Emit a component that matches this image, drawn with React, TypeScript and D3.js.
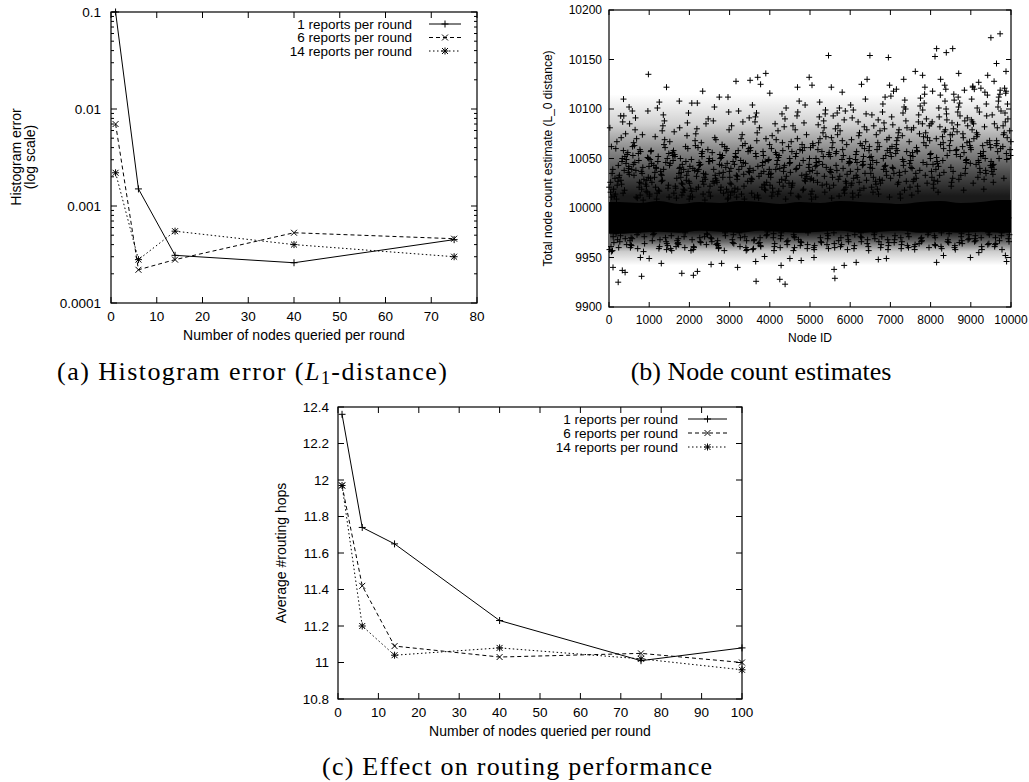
import React from 'react';
import * as d3 from 'd3';

// ---- panel (a) / (c) shared legend names ----
const seriesNames = ['1 reports per round', '6 reports per round', '14 reports per round'];

// ---- panel (a): histogram error, log scale ----
const histX = [1, 6, 14, 40, 75];
const histErr1 = [0.1, 0.0015, 0.00031, 0.00026, 0.00045];
const histErr6 = [0.007, 0.00022, 0.00028, 0.00053, 0.00046];
const histErr14 = [0.0022, 0.00028, 0.00055, 0.0004, 0.0003];
const histXTicks = [0, 10, 20, 30, 40, 50, 60, 70, 80];
const histYTicks = [0.0001, 0.001, 0.01, 0.1];
const histYLabels = ['0.0001', '0.001', '0.01', '0.1'];

// ---- panel (c): routing hops ----
const hopsX = [1, 6, 14, 40, 75, 100];
const hops1 = [12.36, 11.74, 11.65, 11.23, 11.01, 11.08];
const hops6 = [11.97, 11.42, 11.09, 11.03, 11.05, 11.0];
const hops14 = [11.97, 11.2, 11.04, 11.08, 11.02, 10.96];
const hopsXTicks = [0, 10, 20, 30, 40, 50, 60, 70, 80, 90, 100];
const hopsYTicks = [10.8, 11, 11.2, 11.4, 11.6, 11.8, 12, 12.2, 12.4];

// ---- panel (b): node count estimates ----
const nodeXTicks = [0, 1000, 2000, 3000, 4000, 5000, 6000, 7000, 8000, 9000, 10000];
const nodeYTicks = [9900, 9950, 10000, 10050, 10100, 10150, 10200];
const binSize = 500;
// dense black core of the cloud, per 500-node bin
const bandLo = [9974, 9975, 9976, 9975, 9977, 9976, 9975, 9977, 9976, 9975, 9976, 9977, 9975, 9976, 9977, 9975, 9976, 9975, 9976, 9975];
const bandHi = [10006, 10005, 10007, 10004, 10006, 10005, 10007, 10006, 10004, 10006, 10005, 10007, 10006, 10005, 10004, 10006, 10007, 10005, 10006, 10008];
// how crowded the points are at a given estimate (share of ink)
const densityAt = [10115, 10085, 10060, 10035, 10012, 9976, 9966, 9956, 9942];
const densityInk = [0, 0.18, 0.45, 0.7, 0.9, 0.9, 0.6, 0.2, 0];
// sampled estimates per bin (nodes spread through the bin)
const cloud = [
  [10021, 9968, 10045, 10012, 10087, 9961, 10033, 10056, 9974, 10018, 10039, 10071, 9958, 10027, 10049, 9990, 10015, 10062, 9966, 10036, 10009, 10052, 9971, 10024, 10081, 10043, 9963, 10030, 10058, 10011, 9997, 10040, 10067, 9969, 10019, 10047, 10026, 9960, 10054, 10014, 10093, 10035, 9972, 10042, 10023, 10075, 9965, 10050, 10016, 10031, 9985, 10060, 10038, 9957, 10028],
  [10034, 9959, 10017, 10063, 10041, 9970, 10026, 10098, 10011, 9964, 10053, 10037, 10085, 9975, 10022, 10046, 10008, 9962, 10059, 10031, 10070, 9988, 10044, 10019, 9967, 10055, 10028, 10079, 9956, 10039, 10013, 10050, 9973, 10024, 10066, 10035, 9960, 10048, 10016, 10091, 10029, 9969, 10057, 10042, 10010, 9996, 10033, 10074, 9963, 10021, 10051, 10038, 9971, 10062, 10025],
  [10012, 10047, 9966, 10031, 10083, 10058, 9961, 10020, 10040, 10069, 9973, 10027, 10014, 10052, 9958, 10036, 10094, 10045, 9968, 10023, 10009, 10061, 9976, 10033, 10049, 10018, 9964, 10072, 10039, 10026, 9986, 10055, 10015, 9970, 10043, 10078, 10030, 9959, 10050, 10021, 10064, 9967, 10037, 10011, 10101, 10046, 9974, 10028, 10057, 10017, 9962, 10041, 10088, 9993, 10034],
  [10043, 9965, 10028, 10054, 10016, 9972, 10081, 10037, 10010, 9960, 10048, 10025, 10067, 9969, 10033, 10052, 10019, 9957, 10041, 10096, 10030, 9975, 10058, 10013, 10045, 9963, 10073, 10022, 10039, 9991, 10050, 10027, 9967, 10062, 10015, 10044, 9959, 10035, 10086, 10020, 9971, 10056, 10031, 10009, 9964, 10047, 10077, 10024, 9982, 10040, 10060, 9961, 10018, 10053, 10036],
  [10025, 10061, 9963, 10038, 10014, 10049, 9970, 10090, 10032, 10008, 9958, 10055, 10042, 10021, 9974, 10068, 10035, 10017, 9966, 10047, 10080, 10029, 9961, 10052, 10012, 10039, 9987, 10063, 10024, 9968, 10044, 10016, 10106, 10034, 9960, 10057, 10020, 10046, 9973, 10075, 10031, 10011, 9965, 10050, 10037, 10085, 9999, 10027, 9957, 10043, 10059, 10019, 9971, 10040, 10066],
  [10047, 9962, 10019, 10071, 10036, 9969, 10054, 10010, 10028, 9975, 10088, 10043, 10022, 9959, 10060, 10033, 10015, 9966, 10050, 10097, 10026, 9972, 10039, 10064, 10012, 9960, 10045, 10030, 9984, 10056, 10018, 10079, 9964, 10041, 10025, 10053, 9970, 10035, 10009, 10069, 9957, 10048, 10021, 10037, 9967, 10058, 10102, 10031, 9995, 10044, 10016, 9963, 10062, 10027, 10051],
  [10031, 10058, 9967, 10020, 10046, 10083, 9961, 10037, 10011, 10065, 9973, 10042, 10025, 10098, 9958, 10052, 10034, 10017, 9970, 10060, 10029, 10045, 9964, 10074, 10013, 10039, 9989, 10055, 10022, 9968, 10048, 10091, 10032, 9960, 10016, 10063, 10040, 9975, 10027, 10051, 10009, 9965, 10070, 10036, 10019, 9957, 10044, 10087, 10024, 9992, 10057, 10033, 9971, 10047, 10014],
  [10040, 9964, 10026, 10087, 10053, 10015, 9970, 10034, 10068, 10047, 9959, 10021, 10058, 10010, 9973, 10092, 10037, 10029, 9962, 10049, 10076, 10018, 9967, 10043, 10061, 10032, 9976, 10055, 10024, 10104, 9961, 10039, 10013, 10070, 9968, 10046, 10027, 10081, 9994, 10052, 10019, 9958, 10035, 10064, 10042, 9972, 10011, 10057, 10030, 9965, 10048, 10096, 10023, 10038, 9983],
  [10023, 10051, 9966, 10085, 10037, 10012, 9960, 10062, 10044, 10028, 9974, 10095, 10034, 10017, 9963, 10056, 10041, 10073, 9969, 10025, 10048, 10009, 9957, 10066, 10031, 10053, 9986, 10039, 10082, 10020, 9972, 10045, 10014, 10101, 9961, 10058, 10035, 10026, 9967, 10069, 10043, 10016, 9975, 10050, 10078, 10032, 9964, 10022, 10060, 10040, 9997, 10054, 10090, 9970, 10029],
  [10046, 9968, 10032, 10079, 10019, 10057, 9962, 10041, 10093, 10027, 9973, 10064, 10036, 10011, 9959, 10052, 10086, 10023, 9966, 10044, 10070, 10030, 9971, 10058, 10015, 10108, 9963, 10039, 10061, 10025, 9988, 10050, 10097, 10034, 9960, 10018, 10067, 10043, 9975, 10055, 10028, 10083, 9965, 10037, 10012, 10074, 9970, 10048, 10021, 10059, 9993, 10040, 10104, 9957, 10033],
  [10029, 10066, 9963, 10042, 10088, 10017, 9970, 10054, 10035, 10099, 9960, 10023, 10061, 10047, 9974, 10011, 10081, 10038, 9966, 10056, 10026, 10072, 9958, 10044, 10014, 10092, 9969, 10050, 10032, 10065, 9985, 10020, 10059, 10041, 9962, 10076, 10030, 10107, 9972, 10046, 10016, 10063, 9965, 10037, 10084, 10024, 9998, 10052, 10009, 10070, 9959, 10043, 10095, 10028, 10057],
  [10052, 9967, 10034, 10080, 10018, 10061, 9961, 10045, 10096, 10027, 9975, 10068, 10039, 10012, 9958, 10055, 10089, 10031, 9970, 10047, 10074, 10021, 9964, 10059, 10036, 10101, 9972, 10043, 10015, 10066, 9987, 10050, 10083, 10025, 9960, 10040, 10071, 10032, 9968, 10057, 10019, 10093, 9963, 10046, 10029, 10064, 9995, 10053, 10010, 10078, 9966, 10038, 10098, 10023, 10049],
  [10037, 10073, 9964, 10049, 10020, 10091, 9971, 10058, 10031, 10067, 9959, 10043, 10104, 10026, 9968, 10054, 10082, 10015, 9975, 10062, 10039, 10095, 9962, 10047, 10023, 10076, 9990, 10033, 10060, 10011, 9966, 10051, 10087, 10028, 9973, 10044, 10069, 10018, 9961, 10057, 10035, 10099, 9970, 10041, 10013, 10079, 9984, 10052, 10025, 10065, 9957, 10046, 10110, 10030, 10063],
  [10044, 9966, 10058, 10027, 10086, 10040, 9960, 10071, 10019, 10053, 9973, 10097, 10035, 10062, 9968, 10024, 10080, 10048, 9963, 10011, 10066, 10037, 9975, 10105, 10052, 10029, 9958, 10074, 10042, 10016, 9992, 10060, 10089, 10033, 9969, 10050, 10021, 10078, 9962, 10046, 10112, 10031, 9971, 10056, 10014, 10069, 9986, 10039, 10094, 10025, 9965, 10059, 10043, 10083, 10028],
  [10030, 10079, 9962, 10055, 10102, 10041, 9970, 10067, 10024, 10088, 9965, 10049, 10113, 10036, 9974, 10060, 10018, 10084, 9959, 10045, 10071, 10027, 9968, 10096, 10052, 10033, 9987, 10064, 10109, 10040, 9963, 10021, 10076, 10057, 9972, 10043, 10092, 10014, 9960, 10068, 10037, 10118, 9966, 10053, 10026, 10081, 9996, 10047, 10062, 10010, 9971, 10058, 10100, 10035, 10073],
  [10048, 9964, 10071, 10035, 10106, 10056, 9969, 10083, 10022, 10063, 9961, 10099, 10041, 10075, 9973, 10030, 10115, 10052, 9966, 10068, 10017, 10090, 9958, 10046, 10079, 10038, 9991, 10061, 10122, 10027, 9970, 10054, 10087, 10044, 9963, 10072, 10013, 10103, 9975, 10058, 10033, 10081, 9967, 10050, 10094, 10025, 9984, 10066, 10040, 10111, 9960, 10057, 10076, 10029, 10085],
  [10055, 10092, 9966, 10039, 10077, 10118, 9961, 10063, 10027, 10100, 9972, 10048, 10085, 10033, 9968, 10070, 10124, 10044, 9975, 10058, 10016, 10095, 9963, 10066, 10037, 10082, 9989, 10051, 10108, 10024, 9959, 10074, 10042, 10089, 9970, 10060, 10031, 10114, 9965, 10047, 10079, 10020, 9993, 10068, 10101, 10053, 9962, 10036, 10087, 10064, 9974, 10045, 10120, 10028, 10072],
  [10041, 9965, 10083, 10058, 10119, 10030, 9971, 10067, 10097, 10046, 9960, 10075, 10022, 10106, 9968, 10054, 10088, 10037, 9974, 10063, 10112, 10049, 9962, 10071, 10026, 10093, 9986, 10059, 10035, 10080, 9967, 10045, 10102, 10066, 9958, 10018, 10086, 10052, 9973, 10077, 10040, 10115, 9964, 10061, 10029, 10091, 9995, 10056, 10074, 10033, 9969, 10084, 10048, 10109, 10062],
  [10059, 10097, 9963, 10044, 10082, 10123, 9970, 10068, 10031, 10105, 9966, 10053, 10089, 10040, 9975, 10076, 10117, 10025, 9961, 10064, 10048, 10093, 9969, 10057, 10110, 10036, 9988, 10072, 10050, 10085, 9958, 10043, 10127, 10066, 9972, 10019, 10079, 10055, 9964, 10101, 10038, 10070, 9994, 10061, 10046, 10114, 9967, 10029, 10087, 10052, 9973, 10074, 10035, 10120, 10063],
  [10047, 9967, 10090, 10063, 10121, 10034, 9972, 10078, 10102, 10055, 9961, 10083, 10041, 10115, 9969, 10068, 10096, 10026, 9975, 10059, 10108, 10049, 9963, 10074, 10037, 10119, 9990, 10065, 10087, 10044, 9958, 10053, 10112, 10071, 9970, 10030, 10094, 10060, 9966, 10081, 10116, 10039, 9984, 10067, 10050, 10105, 9964, 10076, 10043, 10098, 9973, 10057, 10118, 10085, 10062],
];
// isolated estimates far from the core: [node id, estimate]
const outliers: [number, number][] = [
  [230, 9925], [100, 9940], [60, 9956], [400, 9935], [330, 9937], [810, 9931], [780, 9950], [1000, 9949],
  [1300, 9944], [1810, 9934], [2100, 9932], [2200, 9936], [2540, 9943], [2800, 9944], [3200, 9940], [3660, 9926],
  [3650, 9946], [3870, 9951], [4250, 9928], [4380, 9923], [4280, 9942], [4500, 9949], [4780, 9947], [5100, 9950],
  [5600, 9938], [5620, 9929], [5850, 9942], [6150, 9945], [6700, 9948], [6900, 9949], [8150, 9945], [8320, 9952],
  [8990, 9950], [9200, 9955], [9890, 9946], [9860, 9952],
  [360, 10110], [290, 10093], [500, 10102], [580, 10098], [980, 10135], [1250, 10107], [1430, 10122], [1750, 10108],
  [2060, 10106], [2330, 10118], [2745, 10112], [2960, 10112], [3160, 10128], [3510, 10129], [3700, 10132], [3770, 10125],
  [3900, 10136], [4000, 10116], [4690, 10122], [4980, 10132], [5050, 10124], [5460, 10154], [5530, 10122], [5800, 10117],
  [6280, 10125], [6420, 10130], [6490, 10154], [6950, 10152], [6980, 10124], [7150, 10120], [7330, 10130], [7620, 10138],
  [7800, 10134], [8110, 10153], [8150, 10161], [8390, 10157], [8550, 10161], [8250, 10130], [8700, 10136], [9050, 10122],
  [9250, 10121], [9500, 10172], [9730, 10176], [9640, 10146], [9875, 10138], [9420, 10134], [9580, 10128],
];

const sans = '"Liberation Sans", Arial, Helvetica, sans-serif';
const serif = '"Liberation Serif", "Times New Roman", serif';

const dashes = [undefined, '4,3', '1.5,2.5'];

// gnuplot point types: +, x, *
const marker = (k: number, s: number) => {
  const plus = `M${-s},0H${s}M0,${-s}V${s}`;
  const c = s * 0.85;
  const cross = `M${-c},${-c}L${c},${c}M${-c},${c}L${c},${-c}`;
  if (k === 0) return plus;
  if (k === 1) return cross;
  return plus + cross;
};

type Box = { left: number; right: number; top: number; bottom: number };

const Frame = ({ b }: { b: Box }) => (
  <rect x={b.left} y={b.top} width={b.right - b.left} height={b.bottom - b.top} fill="none" stroke="#000" strokeWidth={1.2} />
);

const Legend = ({ textRight, lineX0, lineX1, y0, step, fs }: any) => (
  <g fontFamily={sans} fontSize={fs}>
    {seriesNames.map((n, i) => {
      const y = y0 + i * step;
      return (
        <g key={n}>
          <text x={textRight} y={y} dy="0.35em" textAnchor="end">{n}</text>
          <line x1={lineX0} x2={lineX1} y1={y} y2={y} stroke="#000" strokeWidth={1} strokeDasharray={dashes[i]} />
          <path d={marker(i, 3.5)} transform={`translate(${(lineX0 + lineX1) / 2},${y})`} stroke="#000" strokeWidth={1} fill="none" />
        </g>
      );
    })}
  </g>
);

const HistPanel = () => {
  const b: Box = { left: 111, right: 477, top: 12, bottom: 303 };
  const x = d3.scaleLinear().domain([0, 80]).range([b.left, b.right]);
  const y = d3.scaleLog().domain([0.0001, 0.1]).range([b.bottom, b.top]);
  const minor: number[] = [];
  [0.0001, 0.001, 0.01].forEach((d) => { for (let k = 2; k <= 9; k++) minor.push(d * k); });
  const line = d3.line<[number, number]>().x((d) => x(d[0])).y((d) => y(d[1]));
  const series = [histErr1, histErr6, histErr14];
  return (
    <g>
      {histXTicks.map((t) => (
        <g key={'x' + t}>
          <line x1={x(t)} x2={x(t)} y1={b.bottom} y2={b.bottom - 6} stroke="#000" />
          <line x1={x(t)} x2={x(t)} y1={b.top} y2={b.top + 6} stroke="#000" />
          <text x={x(t)} y={b.bottom + 18} textAnchor="middle" fontFamily={sans} fontSize={13.5}>{t}</text>
        </g>
      ))}
      {histYTicks.map((t, i) => (
        <g key={'y' + t}>
          <line x1={b.left} x2={b.left + 6} y1={y(t)} y2={y(t)} stroke="#000" />
          <line x1={b.right} x2={b.right - 6} y1={y(t)} y2={y(t)} stroke="#000" />
          <text x={b.left - 10} y={y(t)} dy="0.35em" textAnchor="end" fontFamily={sans} fontSize={13.5}>{histYLabels[i]}</text>
        </g>
      ))}
      {minor.map((t) => (
        <g key={'m' + t}>
          <line x1={b.left} x2={b.left + 3} y1={y(t)} y2={y(t)} stroke="#000" />
          <line x1={b.right} x2={b.right - 3} y1={y(t)} y2={y(t)} stroke="#000" />
        </g>
      ))}
      {series.map((s, i) => {
        const pts = histX.map((v, j) => [v, s[j]] as [number, number]);
        return (
          <g key={i}>
            <path d={line(pts) || ''} fill="none" stroke="#000" strokeWidth={1} strokeDasharray={dashes[i]} />
            {pts.map((p, j) => (
              <path key={j} d={marker(i, 3.5)} transform={`translate(${x(p[0])},${y(p[1])})`} stroke="#000" fill="none" />
            ))}
          </g>
        );
      })}
      <Frame b={b} />
      <Legend textRight={412} lineX0={429} lineX1={461} y0={24} step={13.5} fs={13.5} />
      <text x={(b.left + b.right) / 2} y={340} textAnchor="middle" fontFamily={sans} fontSize={14}>Number of nodes queried per round</text>
      <g fontFamily={sans} fontSize={14} textAnchor="middle">
        <text transform={`translate(21,157) rotate(-90)`}>Histogram error</text>
        <text transform={`translate(35,157) rotate(-90)`}>(log scale)</text>
      </g>
      <text x={252} y={380} textAnchor="middle" fontFamily={serif} fontSize={26} textLength={390} lengthAdjust="spacing">
        (a) Histogram error (<tspan fontStyle="italic">L</tspan><tspan fontSize={18} dy={4}>1</tspan><tspan dy={-4}>-distance)</tspan>
      </text>
    </g>
  );
};

const NodePanel = () => {
  const b: Box = { left: 609, right: 1011, top: 10, bottom: 307 };
  const x = d3.scaleLinear().domain([0, 10000]).range([b.left, b.right]);
  const y = d3.scaleLinear().domain([9900, 10200]).range([b.bottom, b.top]);
  const bandPts = bandLo.map((lo, i) => ({ n: i * binSize + binSize / 2, lo, hi: bandHi[i] }));
  const bandData = [{ ...bandPts[0], n: 0 }, ...bandPts, { ...bandPts[bandPts.length - 1], n: 10000 }];
  const area = d3.area<{ n: number; lo: number; hi: number }>()
    .x((d) => x(d.n)).y0((d) => y(d.lo)).y1((d) => y(d.hi)).curve(d3.curveMonotoneX);
  const yTop = y(densityAt[0]);
  const yBot = y(densityAt[densityAt.length - 1]);
  const pts: [number, number][] = [];
  cloud.forEach((vals, bi) => {
    const n = vals.length;
    // spread the sampled nodes through the bin in a scrambled order
    vals.forEach((v, j) => pts.push([bi * binSize + ((((j * 23) % n) + 0.5) * binSize) / n, v]));
  });
  outliers.forEach((p) => pts.push(p));
  const s = 3;
  const d = pts.map(([n, v]) => {
    const px = x(n).toFixed(1);
    const py = y(v).toFixed(1);
    return `M${+px - s},${py}h${2 * s}M${px},${+py - s}v${2 * s}`;
  }).join('');
  return (
    <g>
      <defs>
        <linearGradient id="density" gradientUnits="userSpaceOnUse" x1={0} x2={0} y1={yTop} y2={yBot}>
          {densityAt.map((v, i) => (
            <stop key={v} offset={(y(v) - yTop) / (yBot - yTop)} stopColor="#000" stopOpacity={densityInk[i]} />
          ))}
        </linearGradient>
      </defs>
      <rect x={b.left + 1} y={yTop} width={b.right - b.left - 2} height={yBot - yTop} fill="url(#density)" />
      <path d={area(bandData) || ''} fill="#000" />
      <path d={d} stroke="#000" strokeWidth={1} fill="none" />
      {nodeXTicks.map((t) => (
        <g key={'x' + t}>
          <line x1={x(t)} x2={x(t)} y1={b.bottom} y2={b.bottom - 5} stroke="#000" />
          <line x1={x(t)} x2={x(t)} y1={b.top} y2={b.top + 5} stroke="#000" />
          <text x={x(t)} y={b.bottom + 17} textAnchor="middle" fontFamily={sans} fontSize={12}>{t}</text>
        </g>
      ))}
      {nodeYTicks.map((t) => (
        <g key={'y' + t}>
          <line x1={b.left} x2={b.left + 5} y1={y(t)} y2={y(t)} stroke="#000" />
          <line x1={b.right} x2={b.right - 5} y1={y(t)} y2={y(t)} stroke="#000" />
          <text x={b.left - 7} y={y(t)} dy="0.35em" textAnchor="end" fontFamily={sans} fontSize={12}>{t}</text>
        </g>
      ))}
      <Frame b={b} />
      <text x={(b.left + b.right) / 2} y={342} textAnchor="middle" fontFamily={sans} fontSize={12}>Node ID</text>
      <text transform={`translate(552,${(b.top + b.bottom) / 2}) rotate(-90)`} textAnchor="middle" fontFamily={sans} fontSize={12}>
        Total node count estimate (L_0 distance)
      </text>
      <text x={761} y={380} textAnchor="middle" fontFamily={serif} fontSize={26}>(b) Node count estimates</text>
    </g>
  );
};

const HopsPanel = () => {
  const b: Box = { left: 338, right: 742, top: 407, bottom: 699 };
  const x = d3.scaleLinear().domain([0, 100]).range([b.left, b.right]);
  const y = d3.scaleLinear().domain([10.8, 12.4]).range([b.bottom, b.top]);
  const line = d3.line<[number, number]>().x((d) => x(d[0])).y((d) => y(d[1]));
  const series = [hops1, hops6, hops14];
  return (
    <g>
      {hopsXTicks.map((t) => (
        <g key={'x' + t}>
          <line x1={x(t)} x2={x(t)} y1={b.bottom} y2={b.bottom - 6} stroke="#000" />
          <line x1={x(t)} x2={x(t)} y1={b.top} y2={b.top + 6} stroke="#000" />
          <text x={x(t)} y={b.bottom + 18} textAnchor="middle" fontFamily={sans} fontSize={13.5}>{t}</text>
        </g>
      ))}
      {hopsYTicks.map((t) => (
        <g key={'y' + t}>
          <line x1={b.left} x2={b.left + 6} y1={y(t)} y2={y(t)} stroke="#000" />
          <line x1={b.right} x2={b.right - 6} y1={y(t)} y2={y(t)} stroke="#000" />
          <text x={b.left - 9} y={y(t)} dy="0.35em" textAnchor="end" fontFamily={sans} fontSize={13.5}>{d3.format('~g')(t)}</text>
        </g>
      ))}
      {series.map((s, i) => {
        const pts = hopsX.map((v, j) => [v, s[j]] as [number, number]);
        return (
          <g key={i}>
            <path d={line(pts) || ''} fill="none" stroke="#000" strokeWidth={1} strokeDasharray={dashes[i]} />
            {pts.map((p, j) => (
              <path key={j} d={marker(i, 3.5)} transform={`translate(${x(p[0])},${y(p[1])})`} stroke="#000" fill="none" />
            ))}
          </g>
        );
      })}
      <Frame b={b} />
      <Legend textRight={678} lineX0={688} lineX1={727} y0={419} step={14} fs={13.5} />
      <text x={(b.left + b.right) / 2} y={736} textAnchor="middle" fontFamily={sans} fontSize={14}>Number of nodes queried per round</text>
      <text transform={`translate(286,${(b.top + b.bottom) / 2}) rotate(-90)`} textAnchor="middle" fontFamily={sans} fontSize={14}>
        Average #routing hops
      </text>
      <text x={517} y={775} textAnchor="middle" fontFamily={serif} fontSize={26} textLength={390} lengthAdjust="spacing">
        (c) Effect on routing performance
      </text>
    </g>
  );
};

export default function App() {
  return (
    <svg width={1029} height={782} style={{ position: 'absolute', left: 0, top: 0, background: '#fff' }}>
      <rect width={1029} height={782} fill="#fff" />
      <HistPanel />
      <NodePanel />
      <HopsPanel />
    </svg>
  );
}
